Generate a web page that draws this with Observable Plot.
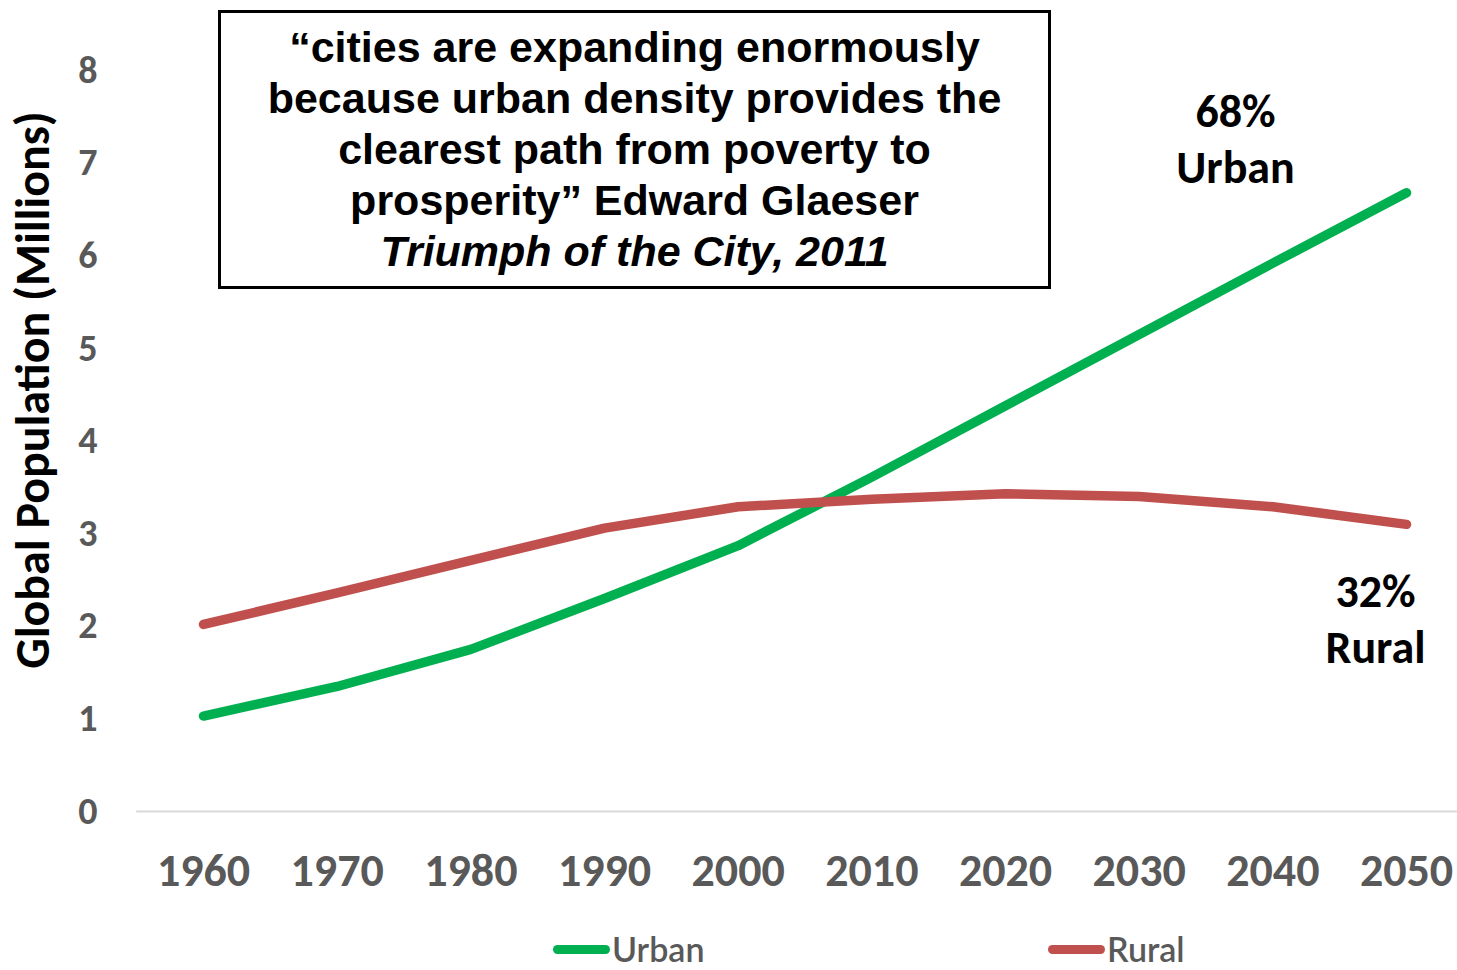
<!DOCTYPE html>
<html>
<head>
<meta charset="utf-8">
<script src="https://cdn.jsdelivr.net/npm/d3@7"></script>
<script src="https://cdn.jsdelivr.net/npm/@observablehq/plot@0.6"></script>
<style>
  html, body { margin: 0; padding: 0; background: #fff; }
  #wrap { position: relative; width: 1457px; height: 970px; overflow: hidden; }
  #quote {
    position: absolute; left: 218px; top: 10px; width: 827px; height: 273px;
    border: 3px solid #000; box-sizing: content-box;
    font-family: "Liberation Sans", Arial, sans-serif; font-weight: bold;
    font-size: 43px; line-height: 51px; text-align: center; color: #000;
    white-space: nowrap;
  }
  #quote .inner { padding-top: 9px; }
  #legend { position: absolute; top: 928px; left: 0; width: 1457px; height: 42px;
    font-family: Lato, "Open Sans", sans-serif; font-size: 34px; color: #595959; font-weight: 600; }
  .item { position: absolute; top: 0; display: flex; align-items: center; height: 42px; line-height: 42px; }
  .sw { width: 57px; height: 9px; border-radius: 5px; margin-right: 2px; }
</style>
</head>
<body>
<div id="wrap">
  <div id="chart"></div>
  <div id="quote"><div class="inner"></div></div>
  <div id="legend"></div>
</div>
<script>
const years = [1960, 1970, 1980, 1990, 2000, 2010, 2020, 2030, 2040, 2050];
const urban = [1.03, 1.35, 1.75, 2.30, 2.87, 3.61, 4.38, 5.15, 5.92, 6.68];
const rural = [2.02, 2.36, 2.71, 3.06, 3.29, 3.37, 3.43, 3.40, 3.29, 3.10];
const seriesNames = ["Urban", "Rural"];
const seriesColors = ["#00B050", "#C0504D"];
const endLabels = ["68%\nUrban", "32%\nRural"];
const yTicks = [0, 1, 2, 3, 4, 5, 6, 7, 8];
const yTitle = "Global Population (Millions)";
const quoteLines = [
  "\u201Ccities are expanding enormously",
  "because urban density provides the",
  "clearest path from poverty to",
  "prosperity\u201D Edward Glaeser"
];
const quoteSource = "Triumph of the City, 2011";

const rows = [];
years.forEach((yr, i) => {
  rows.push({year: yr, value: urban[i], series: seriesNames[0]});
  rows.push({year: yr, value: rural[i], series: seriesNames[1]});
});
const lastUrban = [{year: years[years.length - 1], value: urban[urban.length - 1], label: endLabels[0]}];
const lastRural = [{year: years[years.length - 1], value: rural[rural.length - 1], label: endLabels[1]}];

const calibri = "Carlito, Lato, 'Open Sans', sans-serif";

const chart = Plot.plot({
  width: 1457,
  height: 930,
  marginLeft: 203,
  marginRight: 51,
  marginTop: 70,
  marginBottom: 119,
  style: {fontFamily: calibri, background: "transparent", overflow: "visible"},
  x: {domain: [years[0], years[years.length - 1]], type: "linear"},
  y: {domain: [0, 8]},
  color: {domain: seriesNames, range: seriesColors},
  marks: [
    Plot.ruleY([0], {x1: 1955, x2: 2060, stroke: "#d9d9d9", strokeWidth: 2}),
    Plot.axisY(yTicks, {tickSize: 0, tickPadding: 106, fontSize: 38, fontWeight: "bold", fill: "#595959", label: null, tickFormat: d => String(d)}),
    Plot.axisX(years, {tickSize: 0, tickPadding: 42, fontSize: 46, fontWeight: "bold", fill: "#595959", label: null, tickFormat: d => String(d)}),
    Plot.text([yTitle], {frameAnchor: "left", rotate: -90, textAnchor: "middle", lineAnchor: "middle", dx: -170, dy: -51, fontSize: 48, fontWeight: "bold", fill: "#000"}),
    Plot.line(rows, {x: "year", y: "value", z: "series", stroke: "series", strokeWidth: 9.5, strokeLinecap: "round", strokeLinejoin: "round"}),
    Plot.text(lastUrban, {x: "year", y: "value", text: "label", dx: -171, dy: -56, fontSize: 46, fontWeight: "bold", fill: "#000", lineHeight: 1.22}),
    Plot.text(lastRural, {x: "year", y: "value", text: "label", dx: -31, dy: 93, fontSize: 46, fontWeight: "bold", fill: "#000", lineHeight: 1.22})
  ]
});
document.getElementById("chart").appendChild(chart);

const inner = document.querySelector("#quote .inner");
quoteLines.forEach(t => { const d = document.createElement("div"); d.textContent = t; inner.appendChild(d); });
const src = document.createElement("div"); src.textContent = quoteSource; src.style.fontStyle = "italic"; inner.appendChild(src);

const legend = document.getElementById("legend");
const legendLefts = [553, 1048];
seriesNames.forEach((n, i) => {
  const it = document.createElement("div"); it.className = "item"; it.style.left = legendLefts[i] + "px";
  const sw = document.createElement("div"); sw.className = "sw"; sw.style.background = seriesColors[i];
  const lb = document.createElement("span"); lb.textContent = n;
  it.appendChild(sw); it.appendChild(lb); legend.appendChild(it);
});
</script>
</body>
</html>
